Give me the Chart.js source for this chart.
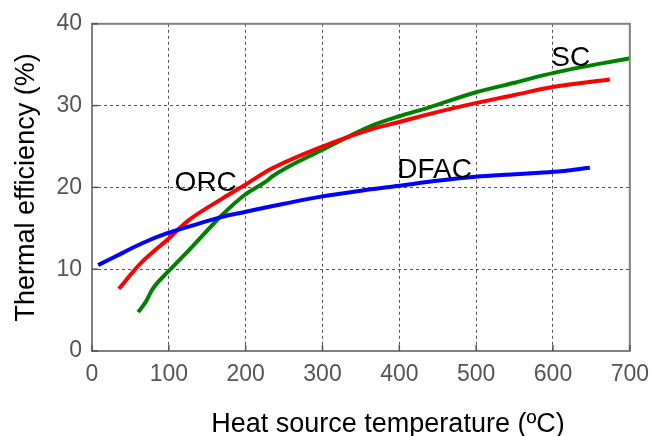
<!DOCTYPE html>
<html>
<head>
<meta charset="utf-8">
<script src="https://cdn.jsdelivr.net/npm/chart.js@4"></script>
<style>
  html, body { margin: 0; padding: 0; background: #fff; }
  #wrap { width: 659px; height: 436px; }
</style>
</head>
<body>
<div id="wrap"><canvas id="chart" width="659" height="436"></canvas></div>
<script>
// values
const dfacTemp = [8, 40, 66, 98, 126, 169, 199, 229, 250, 300, 350, 400, 449, 499, 550, 601, 648];
const dfacEff = [10.5, 12.0, 13.2, 14.4, 15.2, 16.4, 17.0, 17.6, 18.0, 18.9, 19.6, 20.2, 20.8, 21.3, 21.6, 21.9, 22.4];

const orcTemp = [35, 62, 98, 126, 169, 199, 234, 300, 363, 400, 449, 499, 550, 601, 674];
const orcEff = [7.6, 10.6, 13.6, 16.0, 18.6, 20.3, 22.3, 25.0, 27.1, 28.0, 29.2, 30.3, 31.3, 32.3, 33.2];

const scTemp = [60, 70, 79, 98, 126, 169, 199, 229, 234, 300, 363, 400, 436, 499, 550, 601, 700];
const scEff = [4.75, 6.0, 7.6, 9.6, 12.3, 16.6, 19.1, 20.9, 21.3, 24.6, 27.5, 28.7, 29.7, 31.6, 32.8, 34.0, 35.8];

const xTicks = [0, 100, 200, 300, 400, 500, 600, 700];
const yTicks = [0, 10, 20, 30, 40];

// curve labels placed in data units
const curveLabels = [
  { text: "ORC", x: 148, y: 20.5 },
  { text: "DFAC", x: 446, y: 22.1 },
  { text: "SC", x: 623, y: 35.8 }
];

const xTitle = "Heat source temperature (ºC)";
const yTitle = "Thermal efficiency (%)";

function toPoints(xs, ys) {
  return xs.map((x, i) => ({ x: x, y: ys[i] }));
}

function series(label, xs, ys, color) {
  return {
    label: label,
    data: toPoints(xs, ys),
    borderColor: color,
    backgroundColor: color,
    borderWidth: 4,
    pointRadius: 0,
    showLine: true,
    cubicInterpolationMode: "monotone",
    fill: false
  };
}

// frame, inward ticks, curve names and the x title
const decorPlugin = {
  id: "decor",
  afterDraw(chart) {
    const ctx = chart.ctx;
    const a = chart.chartArea;
    const xs = chart.scales.x;
    const ys = chart.scales.y;
    ctx.save();
    ctx.strokeStyle = "#808080";
    ctx.lineWidth = 2;
    ctx.setLineDash([]);
    ctx.strokeRect(a.left, a.top, a.right - a.left, a.bottom - a.top);

    ctx.lineWidth = 1.5;
    ctx.strokeStyle = "#555";
    xTicks.forEach((v) => {
      const px = xs.getPixelForValue(v);
      ctx.beginPath();
      ctx.moveTo(px, a.bottom);
      ctx.lineTo(px, a.bottom - 6);
      ctx.stroke();
    });
    yTicks.forEach((v) => {
      const py = ys.getPixelForValue(v);
      ctx.beginPath();
      ctx.moveTo(a.left, py);
      ctx.lineTo(a.left + 6, py);
      ctx.stroke();
    });

    ctx.fillStyle = "#000";
    ctx.font = "28px 'Liberation Sans', Arial, sans-serif";
    ctx.textAlign = "center";
    ctx.textBaseline = "middle";
    curveLabels.forEach((l) => {
      ctx.fillText(l.text, xs.getPixelForValue(l.x), ys.getPixelForValue(l.y));
    });

    ctx.font = "27px 'Liberation Sans', Arial, sans-serif";
    ctx.textBaseline = "alphabetic";
    ctx.fillText(xTitle, 388, 432);
    ctx.restore();
  }
};

const gridStyle = {
  color: "#555",
  lineWidth: 1,
  drawTicks: false
};

new Chart(document.getElementById("chart"), {
  type: "scatter",
  data: {
    datasets: [
      series("DFAC", dfacTemp, dfacEff, "#0000ff"),
      series("ORC", orcTemp, orcEff, "#ff0000"),
      series("SC", scTemp, scEff, "#008000")
    ]
  },
  plugins: [decorPlugin],
  options: {
    responsive: false,
    animation: false,
    layout: { padding: { top: 20, right: 24, left: 0, bottom: 0 } },
    plugins: {
      legend: { display: false },
      tooltip: { enabled: false }
    },
    scales: {
      x: {
        type: "linear",
        min: 0,
        max: 700,
        afterBuildTicks: (s) => { s.ticks = xTicks.map((v) => ({ value: v })); },
        afterFit: (s) => { s.height = 85; },
        grid: gridStyle,
        border: { display: false, dash: [3, 3] },
        ticks: {
          color: "#555",
          padding: 10,
          maxRotation: 0,
          font: { family: "'Liberation Sans', Arial, sans-serif", size: 23 }
        }
      },
      y: {
        type: "linear",
        min: 0,
        max: 40,
        afterBuildTicks: (s) => { s.ticks = yTicks.map((v) => ({ value: v })); },
        afterFit: (s) => { s.width = 92; },
        grid: gridStyle,
        border: { display: false, dash: [3, 3] },
        title: {
          display: true,
          text: yTitle,
          color: "#000",
          padding: { top: 10, bottom: 0 },
          font: { family: "'Liberation Sans', Arial, sans-serif", size: 27, lineHeight: 1.2 }
        },
        ticks: {
          color: "#555",
          padding: 10,
          font: { family: "'Liberation Sans', Arial, sans-serif", size: 23 }
        }
      }
    }
  }
});
</script>
</body>
</html>
